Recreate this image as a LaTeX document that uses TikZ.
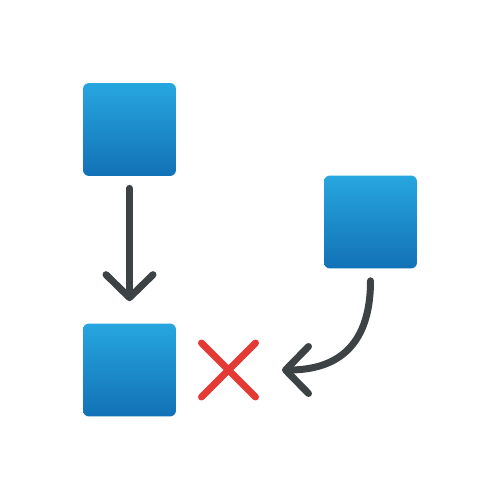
\documentclass[tikz,border=0pt]{standalone}
\usetikzlibrary{arrows.meta,shapes.misc}
\definecolor{blueTop}{HTML}{27A6DF}
\definecolor{blueBot}{HTML}{1271B6}
\definecolor{arrowGray}{HTML}{3D4245}
\definecolor{crossRed}{HTML}{E53935}
\begin{document}
\begin{tikzpicture}[x=0.02cm, y=-0.02cm]
    % Define styles
    \tikzset{
        block/.style={rounded corners=0.12cm, top color=blueTop, bottom color=blueBot, draw=none, minimum size=1.86cm, inner sep=0pt},
        flow/.style={draw=arrowGray, line width=0.14cm, line cap=round, line join=round, -{Straight Barb[length=0.46cm, width=0.94cm, line cap=round, line join=round]}},
        wrongmark/.style={cross out, draw=crossRed, line width=0.14cm, line cap=round, minimum size=0.94cm, inner sep=0pt}
    }
    \useasboundingbox[fill=white] (0,0) rectangle (500,500);

    % Squares
    \node[block] (source) at (129.5,129.5) {};
    \node[block] (other) at (370.5,222) {};
    \node[block] (target) at (129.5,370) {};

    % Red cross
    \node[wrongmark] (cross) at (228.5,370) {};
    \coordinate (tip) at (282,370);

    % Arrows
    \draw[flow, shorten <=0.24cm, shorten >=0.44cm] (source.south) -- (target.north);
    \draw[flow, shorten <=0.24cm] (other.south) to[out=-90, in=0, looseness=1.25] (tip);
\end{tikzpicture}
\end{document}
